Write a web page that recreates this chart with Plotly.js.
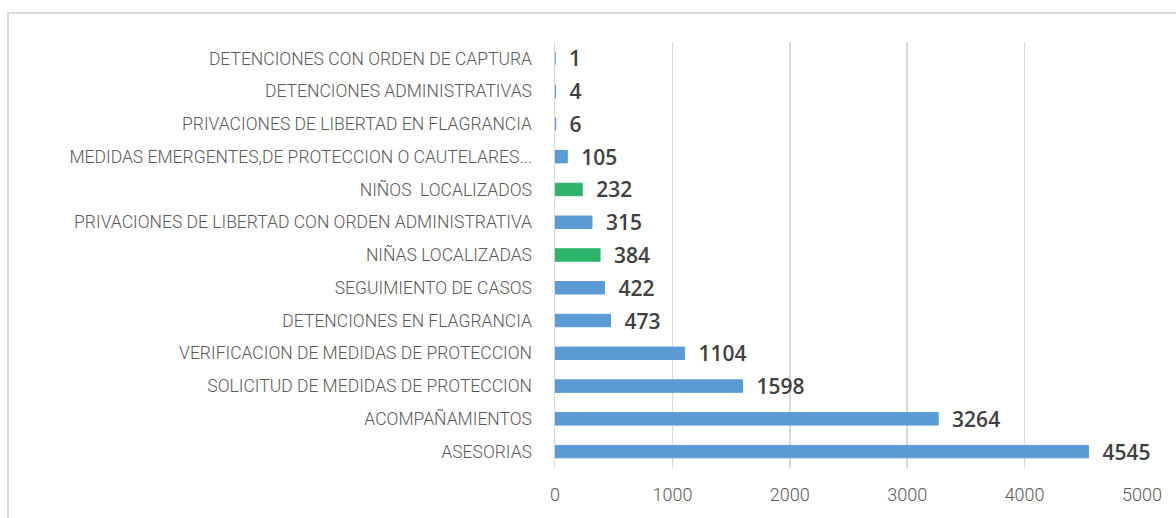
<!DOCTYPE html>
<html>
<head>
<meta charset="utf-8">
<script src="https://cdn.plot.ly/plotly-3.0.1.min.js"></script>
<style>
  html, body { margin: 0; padding: 0; background: #ffffff; overflow: hidden; }
  #chart { width: 1176px; height: 518px; }
  #frame { position: absolute; left: 7px; top: 12px; width: 1300px; height: 700px;
           border: 2px solid #d9d9d9; pointer-events: none; box-sizing: border-box; }
</style>
</head>
<body>
<div id="chart"></div>
<div id="frame"></div>
<script>
// Categories listed bottom-to-top (as drawn on the y axis)
const categories = [
  "ASESORIAS",
  "ACOMPAÑAMIENTOS",
  "SOLICITUD DE MEDIDAS DE PROTECCION",
  "VERIFICACION DE MEDIDAS DE PROTECCION",
  "DETENCIONES EN FLAGRANCIA",
  "SEGUIMIENTO DE CASOS",
  "NIÑAS LOCALIZADAS",
  "PRIVACIONES DE LIBERTAD CON ORDEN ADMINISTRATIVA",
  "NIÑOS  LOCALIZADOS",
  "MEDIDAS EMERGENTES,DE PROTECCION O CAUTELARES...",
  "PRIVACIONES DE LIBERTAD EN FLAGRANCIA",
  "DETENCIONES ADMINISTRATIVAS",
  "DETENCIONES CON ORDEN DE CAPTURA"
];
const values = [4545, 3264, 1598, 1104, 473, 422, 384, 315, 232, 105, 6, 4, 1];
const highlighted = ["NIÑAS LOCALIZADAS", "NIÑOS  LOCALIZADOS"];
const xTicks = [0, 1000, 2000, 3000, 4000, 5000];

const BLUE = "#5b9bd5", GREEN = "#2db46a";
const barColors = categories.map(c => highlighted.includes(c) ? GREEN : BLUE);

const trace = {
  type: "bar",
  orientation: "h",
  y: categories,
  x: values,
  marker: { color: barColors, line: { width: 1, color: barColors } },
  text: values.map(v => String(v)),
  texttemplate: "\u00a0\u00a0%{text}",
  textposition: "outside",
  constraintext: "none",
  cliponaxis: false,
  textfont: { family: "Open Sans", size: 21, color: "#404040", weight: 600 },
  hoverinfo: "none"
};

const layout = {
  width: 1176,
  height: 518,
  margin: { l: 555, r: 34, t: 42, b: 50 },
  paper_bgcolor: "#ffffff",
  plot_bgcolor: "#ffffff",
  bargap: 0.62,
  showlegend: false,
  xaxis: {
    range: [0, 5000],
    tickvals: xTicks,
    ticktext: xTicks.map(String),
    showgrid: true,
    gridcolor: "#d9d9d9",
    gridwidth: 1.5,
    zeroline: false,
    showline: false,
    ticks: "",
    ticklabelstandoff: 14,
    tickfont: { family: "Roboto", size: 18, color: "#595959", weight: 300 },
    fixedrange: true
  },
  yaxis: {
    type: "category",
    categoryorder: "array",
    categoryarray: categories,
    showgrid: false,
    zeroline: false,
    showline: true,
    linecolor: "#d9d9d9",
    linewidth: 1.5,
    ticks: "",
    ticklabelstandoff: 18,
    tickfont: { family: "Roboto", size: 17.5, color: "#595959", weight: 300 },
    fixedrange: true
  },
  font: { family: "Roboto", color: "#595959" }
};

Plotly.newPlot("chart", [trace], layout, { staticPlot: true, displayModeBar: false });
</script>
</body>
</html>
